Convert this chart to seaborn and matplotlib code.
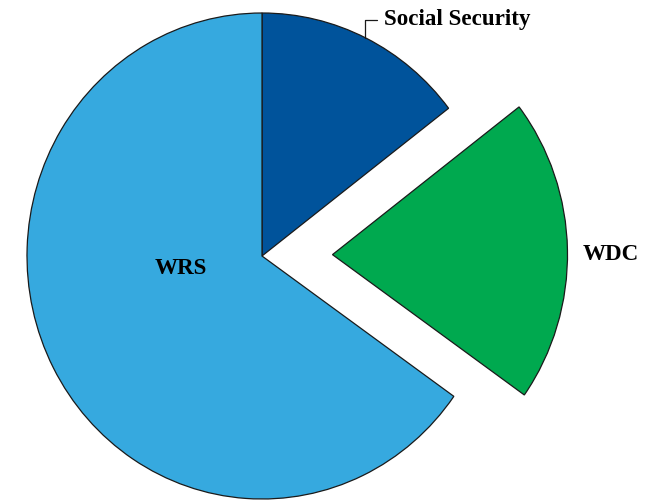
import numpy as np
import matplotlib
matplotlib.use("Agg")
import matplotlib.pyplot as plt
import seaborn as sns

categories = ["Social Security", "WDC", "WRS"]
values = [14.6, 20.2, 65.2]
explode_amt = [0.0, 0.30, 0.0]
colors_hex = ["#00539B", "#00A94F", "#36A9DF"]

sns.set_style("white")
plt.rcParams["font.family"] = ["Liberation Serif", "DejaVu Serif"]
palette = sns.color_palette(colors_hex)

fig = plt.figure(figsize=(6.59, 5.0), dpi=100)
ax = fig.add_axes([0, 0, 1, 1])

wedges, _ = ax.pie(values, colors=palette, explode=explode_amt, startangle=90,
                   counterclock=False, radius=1.0,
                   wedgeprops=dict(edgecolor="#1a1a1a", linewidth=0.9))
ax.set_aspect("auto")
ax.set_xlim(-262 / 235, (659 - 262) / 235)
ax.set_ylim(-244 / 243, 256 / 243)
ax.axis("off")

font = dict(fontsize=16.6, fontweight="bold", color="black")
ax.text(-0.345, -0.052, categories[2], ha="center", va="center", **font)
ax.text(1.484, 0.006, categories[1], ha="center", va="center", **font)

ang = np.deg2rad(64)
ax.annotate(categories[0], xy=(np.cos(ang), np.sin(ang)), xytext=(0.519, 0.972),
            ha="left", va="center", **font,
            arrowprops=dict(arrowstyle="-", color="#1a1a1a", lw=0.9,
                            connectionstyle="angle,angleA=0,angleB=90,rad=0",
                            shrinkA=3, shrinkB=0))

fig.savefig("out.png", dpi=100)
